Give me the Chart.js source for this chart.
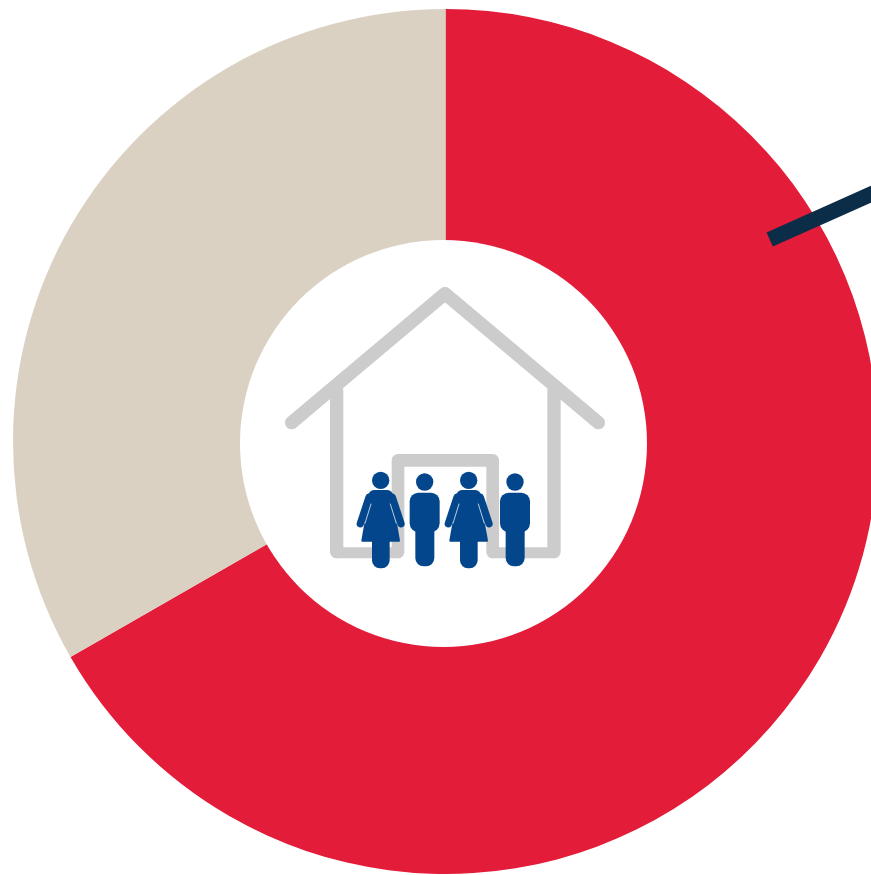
<!DOCTYPE html>
<html>
<head>
<meta charset="utf-8">
<title>Households</title>
<style>
html, body { margin: 0; padding: 0; background: #fff; overflow: hidden; }
#wrap { width: 871px; height: 875px; overflow: hidden; }
canvas { display: block; }
</style>
<script src="https://cdn.jsdelivr.net/npm/chart.js@4"></script>
</head>
<body>
<div id="wrap"><canvas id="ring" width="891" height="883"></canvas></div>
<script>
var categories = ["Share of households", "Other households"]
var shares = [66.7, 33.3]
var sliceColors = ["#e31c3a", "#dad1c2"]

var grey = "#cccccc"
var blue = "#03468c"
var navy = "#0c2d48"

// head, arms, dress and leg of the female figure, x is the head centre
function woman(ctx, x) {
	ctx.fillStyle = blue
	ctx.strokeStyle = blue
	ctx.lineCap = "round"
	ctx.lineJoin = "round"

	ctx.beginPath()
	ctx.arc(x, 631, 26, 0, Math.PI * 2)
	ctx.fill()

	// shoulders
	ctx.lineWidth = 34
	ctx.beginPath()
	ctx.moveTo(x - 20, 677)
	ctx.lineTo(x + 20, 677)
	ctx.stroke()

	// arms
	ctx.lineWidth = 22
	ctx.beginPath()
	ctx.moveTo(x - 35, 682)
	ctx.lineTo(x - 61, 761)
	ctx.moveTo(x + 35, 682)
	ctx.lineTo(x + 61, 761)
	ctx.stroke()

	// torso and skirt
	ctx.lineWidth = 6
	ctx.beginPath()
	ctx.moveTo(x - 32, 680)
	ctx.lineTo(x + 32, 680)
	ctx.lineTo(x + 55, 812)
	ctx.lineTo(x - 55, 812)
	ctx.closePath()
	ctx.fill()
	ctx.stroke()

	ctx.beginPath()
	ctx.roundRect(x - 26, 790, 53, 105, 24)
	ctx.fill()

	// slits between the arms and the body
	ctx.strokeStyle = "#dfe7f0"
	ctx.lineWidth = 2.5
	ctx.beginPath()
	ctx.moveTo(x - 29, 702)
	ctx.lineTo(x - 47, 760)
	ctx.moveTo(x + 29, 702)
	ctx.lineTo(x + 47, 760)
	ctx.stroke()
}

function man(ctx, x) {
	ctx.fillStyle = blue
	ctx.beginPath()
	ctx.arc(x, 636, 26, 0, Math.PI * 2)
	ctx.fill()

	ctx.beginPath()
	ctx.roundRect(x - 45, 668, 90, 118, 26)
	ctx.fill()

	ctx.beginPath()
	ctx.roundRect(x - 28, 760, 57, 129, 25)
	ctx.fill()
}

function house(ctx) {
	ctx.strokeStyle = grey
	ctx.lineCap = "round"
	ctx.lineJoin = "round"

	// roof
	ctx.lineWidth = 40
	ctx.beginPath()
	ctx.moveTo(65, 458)
	ctx.lineTo(525, 71)
	ctx.lineTo(985, 458)
	ctx.stroke()

	// outer walls
	ctx.beginPath()
	ctx.moveTo(200, 360)
	ctx.lineTo(200, 845)
	ctx.moveTo(852, 360)
	ctx.lineTo(852, 845)
	ctx.stroke()

	// floor on either side of the door
	ctx.lineWidth = 33
	ctx.beginPath()
	ctx.moveTo(200, 848)
	ctx.lineTo(384, 848)
	ctx.moveTo(668, 848)
	ctx.lineTo(852, 848)
	ctx.stroke()

	// door frame
	ctx.lineWidth = 38
	ctx.beginPath()
	ctx.moveTo(384, 846)
	ctx.lineTo(384, 571)
	ctx.lineTo(668, 571)
	ctx.lineTo(668, 846)
	ctx.stroke()
}

var centerIcon = {
	id: "centerIcon",
	afterDatasetsDraw: function(chart) {
		var ctx = chart.ctx
		var meta = chart.getDatasetMeta(0).data[0]
		var cx = meta.x
		var cy = meta.y

		ctx.save()
		// leader line coming off the red slice
		ctx.strokeStyle = navy
		ctx.lineWidth = 15.5
		ctx.lineCap = "butt"
		ctx.beginPath()
		ctx.moveTo(cx + 324.2, cy - 202)
		ctx.lineTo(cx + 454.5, cy - 260.2)
		ctx.stroke()

		// hole of the ring sits slightly off the slices
		ctx.fillStyle = "#fff"
		ctx.beginPath()
		ctx.arc(cx - 2, cy + 2, 203.5, 0, Math.PI * 2)
		ctx.fill()

		// icon is laid out at 3 units per pixel
		ctx.translate(cx - 175.5, cy - 171.5)
		ctx.scale(1 / 3, 1 / 3)
		house(ctx)
		woman(ctx, 332)
		man(ctx, 464)
		woman(ctx, 596)
		man(ctx, 735)
		ctx.restore()
	}
}

new Chart(document.getElementById("ring"), {
	type: "doughnut",
	data: {
		labels: categories,
		datasets: [{
			data: shares,
			backgroundColor: sliceColors,
			borderWidth: 0
		}]
	},
	options: {
		responsive: false,
		animation: false,
		radius: 432.5,
		cutout: 195,
		plugins: {
			legend: { display: false },
			tooltip: { enabled: false }
		}
	},
	plugins: [centerIcon]
})
</script>
</body>
</html>
